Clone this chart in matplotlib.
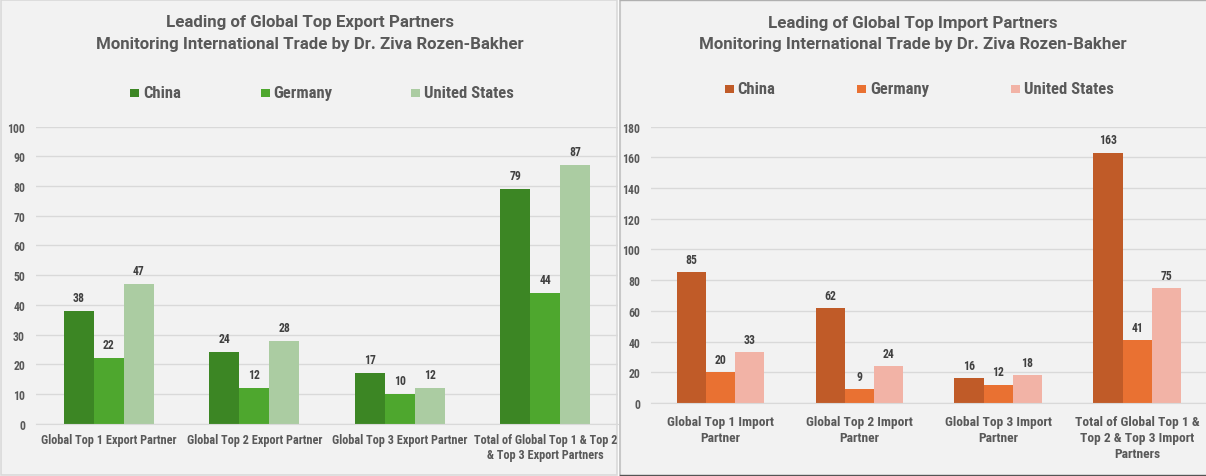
import matplotlib
matplotlib.use("Agg")
import matplotlib.pyplot as plt
import matplotlib.font_manager as fm
from matplotlib.patches import Rectangle

# pick a narrow font if one is installed
installed = {f.name for f in fm.fontManager.ttflist}
narrow = None
for name in ["Roboto Condensed", "Liberation Sans Narrow", "Open Sans Condensed",
             "Roboto", "Liberation Sans"]:
    if name in installed:
        narrow = name
        break
title_font = "Roboto" if "Roboto" in installed else (narrow or "DejaVu Sans")
plt.rcParams["font.family"] = [narrow or "DejaVu Sans", "DejaVu Sans"]
plt.rcParams["font.weight"] = "bold"

# data
export_categories = [
    "Global Top 1 Export Partner",
    "Global Top 2 Export Partner",
    "Global Top 3 Export Partner",
    "Total of Global Top 1 & Top 2\n& Top 3 Export Partners",
]
import_categories = [
    "Global Top 1 Import\nPartner",
    "Global Top 2 Import\nPartner",
    "Global Top 3 Import\nPartner",
    "Total of Global Top 1 &\nTop 2 & Top 3 Import\nPartners",
]
countries = ["China", "Germany", "United States"]
export_china = [38, 24, 17, 79]
export_germany = [22, 12, 10, 44]
export_us = [47, 28, 12, 87]
import_china = [85, 62, 16, 163]
import_germany = [20, 9, 12, 41]
import_us = [33, 24, 18, 75]

export_colors = ["#3c8624", "#4ea72e", "#abcca2"]
import_colors = ["#c05b28", "#e97132", "#f2b3a6"]

W, H = 1206, 477
fig = plt.figure(figsize=(W / 100, H / 100), dpi=100)
fig.patch.set_facecolor("#ffffff")

# chart panels (behind the axes)
fig.add_artist(Rectangle((0.5 / W, 1 / H), 616 / W, 475 / H, transform=fig.transFigure,
                         facecolor="#f2f2f2", edgecolor="#d9d9d9", lw=1.2, zorder=-5))
fig.add_artist(Rectangle((620 / W, 0), 586 / W, 476 / H, transform=fig.transFigure,
                         facecolor="#f2f2f2", edgecolor="none", zorder=-5))
fig.add_artist(plt.Line2D([619.5 / W, 619.5 / W], [0, 1], transform=fig.transFigure,
                          color="#c8c8c8", lw=1.5, zorder=-4))
fig.add_artist(plt.Line2D([620 / W, 1], [1 - 0.5 / H, 1 - 0.5 / H], transform=fig.transFigure,
                          color="#b0b0b0", lw=1, zorder=-4))
fig.add_artist(plt.Line2D([620 / W, 1], [1.5 / H, 1.5 / H], transform=fig.transFigure,
                          color="#555555", lw=1, zorder=-4))

grey = "#595959"
label_col = "#404040"


def draw(ax, cats, series, colors, ymax, step, bar_w, cat_size, spacing, gap, pad):
    ax.set_facecolor("none")
    x = list(range(len(cats)))
    offsets = [-bar_w, 0, bar_w]
    for vals, col, off in zip(series, colors, offsets):
        bars = ax.bar([i + off for i in x], vals, width=bar_w, color=col, zorder=3)
        for b, v in zip(bars, vals):
            ax.annotate(str(v), (b.get_x() + b.get_width() / 2, v), xytext=(0, gap),
                        textcoords="offset points", ha="center", va="bottom",
                        fontsize=8.5, color=label_col, fontweight="bold")
    ax.set_xlim(-0.5, len(cats) - 0.5)
    ax.set_ylim(0, ymax)
    ax.set_yticks(range(0, ymax + 1, step))
    ax.grid(axis="y", color="#d9d9d9", lw=1, zorder=0)
    ax.set_xticks(x)
    ax.set_xticklabels(cats, fontsize=cat_size, color=grey, fontweight="bold",
                       linespacing=spacing, va="top")
    ax.tick_params(axis="x", length=0, pad=pad)
    ax.tick_params(axis="y", length=0, labelsize=8.5, labelcolor=grey, pad=8)
    for t in ax.get_yticklabels():
        t.set_fontweight("bold")
    for s in ["top", "right", "left"]:
        ax.spines[s].set_visible(False)
    ax.spines["bottom"].set_color("#d9d9d9")
    ax.spines["bottom"].set_zorder(4)


ax1 = fig.add_axes([36 / W, (H - 424.7) / H, 582 / W, 297.1 / H])
draw(ax1, export_categories, [export_china, export_germany, export_us],
     export_colors, 100, 10, 0.206, 8.8, 1.12, 5, 7)

ax2 = fig.add_axes([651 / W, (H - 404) / H, 555.6 / W, 276.4 / H])
draw(ax2, import_categories, [import_china, import_germany, import_us],
     import_colors, 180, 20, 0.21, 9.7, 1.27, 4.5, 9)

# titles
title_kw = dict(ha="center", va="center", fontsize=12.2, color=grey, fontweight="bold",
                family=[title_font, "DejaVu Sans"])
fig.text(310 / W, 1 - 23 / H, "Leading of Global Top Export Partners", **title_kw)
fig.text(310 / W, 1 - 44.5 / H, "Monitoring International Trade by Dr. Ziva Rozen-Bakher", **title_kw)
fig.text(913 / W, 1 - 23.5 / H, "Leading of Global Top Import Partners", **title_kw)
fig.text(913 / W, 1 - 44.5 / H, "Monitoring International Trade by Dr. Ziva Rozen-Bakher", **title_kw)


# legends
def legend(xs, y, colors):
    for xp, name, col in zip(xs, countries, colors):
        fig.add_artist(Rectangle(((xp - 4.5) / W, (H - y - 4) / H), 9 / W, 8 / H,
                                 transform=fig.transFigure, facecolor=col, edgecolor="none"))
        fig.text((xp + 8.5) / W, (H - y) / H, name, ha="left", va="center",
                 fontsize=12, color=grey, fontweight="bold")


legend([134.7, 265, 416], 93.8, export_colors)
legend([729, 861.7, 1015.6], 90, import_colors)

fig.savefig("out.png", dpi=100, facecolor=fig.get_facecolor())
